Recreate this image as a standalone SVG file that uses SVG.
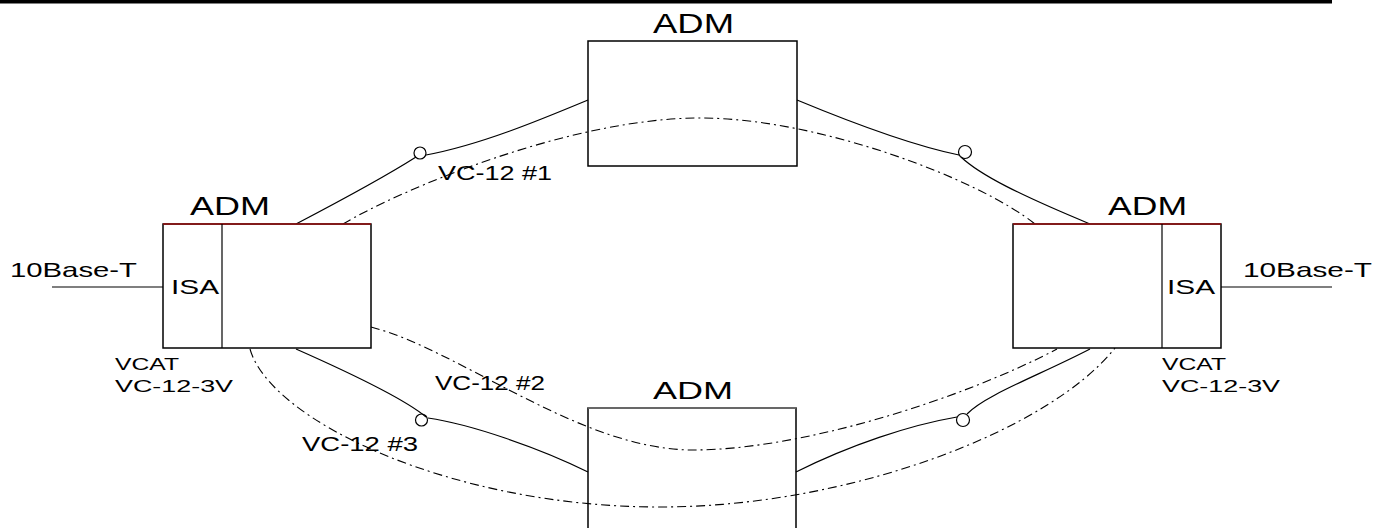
<svg xmlns="http://www.w3.org/2000/svg" width="1375" height="528" viewBox="0 0 1375 528">
<style>
text{font-family:"Liberation Sans",Arial,sans-serif;fill:#000}
.box{fill:#fff;stroke:#000;stroke-width:1.5}
.edge{fill:none;stroke:#000;stroke-width:1.2}
.dd{fill:none;stroke:#000;stroke-width:1.1;stroke-dasharray:9 4 2 4}
.red{stroke:#9a1010;stroke-width:1.5}
</style>
<rect x="0" y="0" width="1332" height="3.5" fill="#000"/>
<g id="connectors">
<path class="edge" d="M52,287 H163"/>
<path class="edge" d="M1221,287 H1332"/>
<path class="edge" d="M296,224 Q380,180 416,157"/>
<circle class="edge" cx="420" cy="153" r="6"/>
<path class="edge" d="M426,155 C480,145 540,120 588,100"/>
<path class="edge" d="M797,100 C850,122 910,145 959,155"/>
<circle class="edge" cx="965" cy="152" r="6.5"/>
<path class="edge" d="M961,157 C980,175 1020,195 1090,224"/>
<path class="edge" d="M296,349 Q400,395 426,417"/>
<circle class="edge" cx="421.5" cy="420" r="6"/>
<path class="edge" d="M428,418 C470,424 540,448 588,472"/>
<path class="edge" d="M1090,349 C1040,375 985,395 967,414"/>
<circle class="edge" cx="963" cy="420" r="6.5"/>
<path class="edge" d="M957,417 C910,425 850,445 796,472"/>
<path class="dd" d="M343,224 C400,190 570,118 700,118 C820,118 980,180 1035,224"/>
<path class="dd" d="M371,327 C460,350 580,450 693,450 C800,450 960,400 1057,349"/>
<path class="dd" d="M250,349 C270,420 450,507 660,507 C850,507 1050,430 1115,348"/>
</g>
<g id="adm-top">
<rect class="box" x="588" y="41" width="209" height="125" fill-opacity="0"/>
<text x="653" y="33" font-size="27" textLength="81" lengthAdjust="spacingAndGlyphs">ADM</text>
</g>
<g id="adm-left">
<rect class="box" x="163" y="224" width="208" height="124" fill="none"/>
<line class="red" x1="163" y1="224" x2="371" y2="224"/>
<line class="edge" x1="222" y1="224" x2="222" y2="348"/>
<text x="190" y="215" font-size="25" textLength="80" lengthAdjust="spacingAndGlyphs">ADM</text>
<text x="171" y="294" font-size="21" textLength="48" lengthAdjust="spacingAndGlyphs">ISA</text>
<text x="10" y="277" font-size="21" textLength="127" lengthAdjust="spacingAndGlyphs">10Base-T</text>
<text x="115" y="370" font-size="17" textLength="64" lengthAdjust="spacingAndGlyphs">VCAT</text>
<text x="115" y="392" font-size="17" textLength="118" lengthAdjust="spacingAndGlyphs">VC-12-3V</text>
</g>
<g id="adm-right">
<rect class="box" x="1013" y="224" width="208" height="124" fill="none"/>
<line class="red" x1="1013" y1="224" x2="1221" y2="224"/>
<line class="edge" x1="1162" y1="224" x2="1162" y2="348"/>
<text x="1108" y="215" font-size="25" textLength="79" lengthAdjust="spacingAndGlyphs">ADM</text>
<text x="1167" y="294" font-size="21" textLength="48" lengthAdjust="spacingAndGlyphs">ISA</text>
<text x="1243" y="277" font-size="21" textLength="129" lengthAdjust="spacingAndGlyphs">10Base-T</text>
<text x="1162" y="370" font-size="17" textLength="64" lengthAdjust="spacingAndGlyphs">VCAT</text>
<text x="1162" y="392" font-size="17" textLength="118" lengthAdjust="spacingAndGlyphs">VC-12-3V</text>
</g>
<g id="adm-bottom">
<path class="edge" d="M588,540 V408 H796 V540" style="stroke-width:1.5"/>
<line x1="588" y1="408" x2="796" y2="408" stroke="#777" stroke-width="1.5"/>
<text x="653" y="399" font-size="24" textLength="80" lengthAdjust="spacingAndGlyphs">ADM</text>
</g>
<g id="labels">
<text x="438" y="180" font-size="21" textLength="114" lengthAdjust="spacingAndGlyphs">VC-12 #1</text>
<text x="435" y="390" font-size="21" textLength="110" lengthAdjust="spacingAndGlyphs">VC-12 #2</text>
<text x="302" y="451" font-size="20" textLength="116" lengthAdjust="spacingAndGlyphs">VC-12 #3</text>
</g>
</svg>
